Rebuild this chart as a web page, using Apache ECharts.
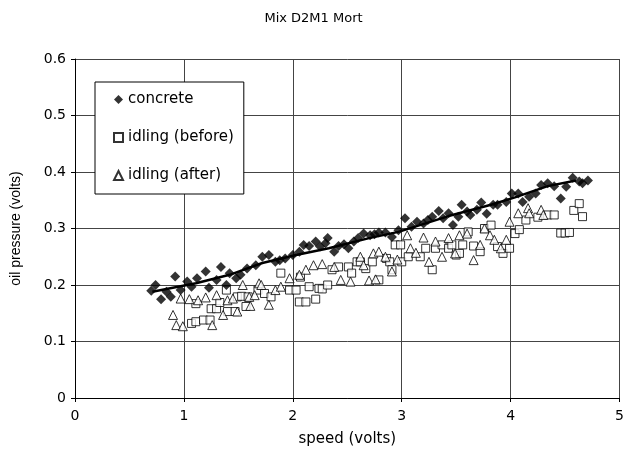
<!DOCTYPE html>
<html>
<head>
<meta charset="utf-8">
<script src="https://cdn.jsdelivr.net/npm/echarts@6/dist/echarts.min.js"></script>
<style>
  html, body { margin: 0; padding: 0; background: #fff; }
  #chart { width: 627px; height: 460px; }
</style>
</head>
<body>
<div id="chart"></div>
<script>
// concrete readings (speed, oil pressure)
var concrete = [
  [0.70,0.19],[0.74,0.20],[0.79,0.175],[0.84,0.188],[0.88,0.179],[0.92,0.215],[0.97,0.191],[1.03,0.206],
  [1.07,0.197],[1.12,0.212],[1.20,0.224],[1.23,0.195],[1.30,0.209],[1.34,0.232],[1.39,0.20],[1.42,0.221],
  [1.48,0.212],[1.52,0.218],[1.58,0.229],[1.66,0.235],[1.72,0.25],[1.78,0.253],[1.84,0.241],[1.88,0.244],
  [1.93,0.247],[2.00,0.253],[2.06,0.259],[2.10,0.271],[2.15,0.269],[2.21,0.277],[2.25,0.268],[2.30,0.274],
  [2.32,0.283],[2.38,0.259],[2.42,0.269],[2.47,0.272],[2.51,0.265],[2.56,0.277],[2.60,0.283],[2.65,0.291],
  [2.71,0.288],[2.75,0.29],[2.79,0.293],[2.85,0.293],[2.91,0.285],[2.97,0.297],[3.03,0.318],[3.09,0.303],
  [3.14,0.312],[3.20,0.309],[3.24,0.315],[3.28,0.321],[3.34,0.331],[3.38,0.318],[3.43,0.327],[3.47,0.306],
  [3.52,0.321],[3.55,0.342],[3.60,0.33],[3.63,0.324],[3.69,0.333],[3.73,0.346],[3.78,0.326],[3.84,0.342],
  [3.88,0.342],[3.96,0.347],[4.01,0.362],[4.07,0.362],[4.11,0.347],[4.17,0.356],[4.23,0.362],[4.28,0.377],
  [4.34,0.38],[4.40,0.375],[4.46,0.353],[4.51,0.374],[4.57,0.39],[4.63,0.383],[4.66,0.38],[4.71,0.385]
];
// idling before
var idlingBefore = [
  [1.07,0.132],[1.11,0.135],[1.18,0.138],[1.24,0.138],[1.11,0.167],[1.25,0.158],[1.30,0.158],[1.33,0.169],
  [1.40,0.153],[1.47,0.153],[1.39,0.191],[1.49,0.179],[1.53,0.18],[1.57,0.162],[1.59,0.179],[1.68,0.191],
  [1.74,0.185],[1.80,0.179],[1.89,0.221],[1.97,0.191],[2.03,0.191],[2.06,0.17],[2.12,0.17],[2.07,0.214],
  [2.15,0.197],[2.21,0.175],[2.24,0.194],[2.27,0.193],[2.32,0.20],[2.36,0.227],[2.42,0.232],[2.51,0.232],
  [2.54,0.221],[2.59,0.241],[2.62,0.241],[2.67,0.229],[2.73,0.241],[2.79,0.209],[2.86,0.247],[2.89,0.241],
  [2.91,0.227],[2.94,0.271],[2.99,0.271],[3.00,0.241],[3.06,0.25],[3.17,0.25],[3.22,0.265],[3.28,0.227],
  [3.31,0.265],[3.37,0.271],[3.43,0.265],[3.46,0.271],[3.50,0.253],[3.53,0.256],[3.56,0.271],[3.61,0.294],
  [3.66,0.269],[3.72,0.259],[3.76,0.30],[3.82,0.306],[3.88,0.268],[3.93,0.256],[3.99,0.265],[4.04,0.291],
  [4.08,0.298],[4.14,0.315],[4.25,0.32],[4.34,0.324],[4.40,0.324],[4.46,0.292],[4.50,0.292],[4.54,0.293],
  [4.58,0.332],[4.63,0.344],[4.66,0.321]
];
// idling after
var idlingAfter = [
  [0.90,0.147],[0.93,0.129],[0.99,0.127],[1.26,0.129],[0.97,0.176],[1.05,0.175],[1.13,0.173],[1.20,0.178],
  [1.30,0.182],[1.36,0.147],[1.40,0.173],[1.45,0.176],[1.49,0.153],[1.54,0.20],[1.60,0.179],[1.61,0.163],
  [1.65,0.182],[1.69,0.203],[1.71,0.20],[1.78,0.165],[1.84,0.191],[1.89,0.197],[1.97,0.212],[2.06,0.218],
  [2.12,0.227],[2.19,0.235],[2.27,0.237],[2.38,0.232],[2.44,0.209],[2.53,0.206],[2.62,0.25],[2.65,0.235],
  [2.70,0.208],[2.74,0.256],[2.76,0.21],[2.79,0.259],[2.85,0.25],[2.91,0.224],[2.96,0.245],[3.05,0.288],
  [3.08,0.265],[3.13,0.257],[3.20,0.284],[3.25,0.241],[3.31,0.277],[3.37,0.25],[3.43,0.283],[3.49,0.256],
  [3.53,0.288],[3.60,0.291],[3.66,0.244],[3.72,0.271],[3.76,0.30],[3.81,0.288],[3.85,0.28],[3.91,0.265],
  [3.96,0.28],[3.99,0.312],[4.07,0.327],[4.16,0.336],[4.17,0.327],[4.28,0.333],[4.30,0.324]
];
// trend line through concrete
var concreteTrend = [
  [0.71,0.188],[1.11,0.203],[1.42,0.218],[1.72,0.239],[2.03,0.253],[2.33,0.265],[2.70,0.283],
  [2.97,0.294],[3.43,0.322],[3.82,0.342],[4.04,0.355],[4.34,0.375],[4.60,0.385]
];

// wide face for horizontal text, Arial-like for the vertical axis name
var font = 'DejaVu Sans, sans-serif';
var fontV = 'Liberation Sans, Arial, sans-serif';
var chart = echarts.init(document.getElementById('chart'));
chart.setOption({
  animation: false,
  title: {
    text: 'Mix D2M1 Mort',
    left: 'center', top: 7,
    textStyle: { fontFamily: font, fontSize: 13, fontWeight: 'normal', color: '#000' }
  },
  legend: {
    orient: 'vertical',
    left: 95, top: 82,
    data: ['concrete', 'idling (before)', 'idling (after)'],
    itemWidth: 9, itemHeight: 9,
    itemGap: 23,
    padding: [10, 10, 11, 18],
    backgroundColor: '#fff',
    borderColor: '#000', borderWidth: 1, borderRadius: 0,
    textStyle: { fontFamily: font, fontSize: 15, color: '#000' }
  },
  grid: { left: 75, right: 5, top: 59, bottom: 62 },
  xAxis: {
    type: 'value', min: 0, max: 5, interval: 1,
    name: 'speed (volts)', nameLocation: 'middle', nameGap: 34,
    nameTextStyle: { fontFamily: font, fontSize: 15, color: '#000' },
    axisLine: { lineStyle: { color: '#000' } },
    axisTick: { show: true, length: 4, lineStyle: { color: '#000' } },
    axisLabel: { fontFamily: font, fontSize: 14, color: '#000', margin: 11 },
    splitLine: { show: true, lineStyle: { color: '#444', width: 1 } }
  },
  yAxis: {
    type: 'value', min: 0, max: 0.6, interval: 0.1,
    name: 'oil pressure (volts)', nameLocation: 'middle', nameGap: 52,
    nameTextStyle: { fontFamily: fontV, fontSize: 14, color: '#000' },
    axisLine: { show: true, lineStyle: { color: '#000' } },
    axisTick: { show: true, length: 4, lineStyle: { color: '#000' } },
    axisLabel: { fontFamily: font, fontSize: 14, color: '#000', margin: 9 },
    splitLine: { show: true, lineStyle: { color: '#444', width: 1 } }
  },
  series: [
    {
      name: 'concrete', type: 'scatter', data: concrete,
      symbol: 'diamond', symbolSize: 10,
      itemStyle: { color: '#000' }, z: 4
    },
    {
      name: 'idling (before)', type: 'scatter', data: idlingBefore,
      symbol: 'rect', symbolSize: 8,
      itemStyle: { color: '#fff', borderColor: '#000', borderWidth: 1 }, z: 3
    },
    {
      name: 'idling (after)', type: 'scatter', data: idlingAfter,
      symbol: 'triangle', symbolSize: 9,
      itemStyle: { color: '#fff', borderColor: '#000', borderWidth: 1 }, z: 3
    },
    {
      name: 'trend', type: 'line', data: concreteTrend,
      symbol: 'none', smooth: false,
      lineStyle: { color: '#000', width: 2.5 }, z: 5
    }
  ]
});
</script>
</body>
</html>
